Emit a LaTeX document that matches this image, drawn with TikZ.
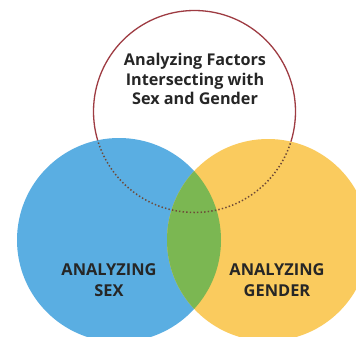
\documentclass[tikz,border=0pt]{standalone}
\usepackage{fontspec}
\setmainfont{Open Sans}
\definecolor{sexblue}{HTML}{5AAEE2}
\definecolor{genyellow}{HTML}{FACB5E}
\definecolor{lensgreen}{HTML}{7BB752}
\definecolor{ringred}{HTML}{9E3B42}
\definecolor{dotbrown}{HTML}{6E4A38}
\begin{document}
\begin{tikzpicture}[x=1pt,y=-1pt,
  toptext/.style={font=\fontsize{16.2}{19.5}\selectfont\bfseries, align=center, text=black!85},
  bottext/.style={font=\fontsize{16.4}{21}\selectfont\bfseries, align=center, text=black!85}]
\useasboundingbox (0,0) rectangle (356,337);
\fill[white] (0,0) rectangle (356,337);
% coordinates of circle centres
\coordinate (ctop) at (194.5,111.5);
\coordinate (csex) at (119,240);
\coordinate (cgen) at (268,240);
% solid ring (covered later by the fills)
\draw[ringred, line width=1.3pt] (ctop) circle[radius=101];
% fills
\fill[sexblue] (csex) circle[radius=102];
\fill[genyellow] (cgen) circle[radius=101];
\begin{scope}
  \clip (csex) circle[radius=102];
  \fill[lensgreen] (cgen) circle[radius=101];
\end{scope}
% dotted part of the ring
\begin{scope}
  \clip (csex) circle[radius=102] (cgen) circle[radius=101];
  \draw[dotbrown, line width=1.5pt, dash pattern=on 1.4pt off 2.2pt] (ctop) circle[radius=101];
\end{scope}
\node[toptext] (title) at (195,79) {Analyzing Factors\\Intersecting with\\Sex and Gender};
\node[bottext] (sex) at (109,280) {ANALYZING\\SEX};
\node[bottext] (gender) at (277,280) {ANALYZING\\GENDER};
\end{tikzpicture}
\end{document}
